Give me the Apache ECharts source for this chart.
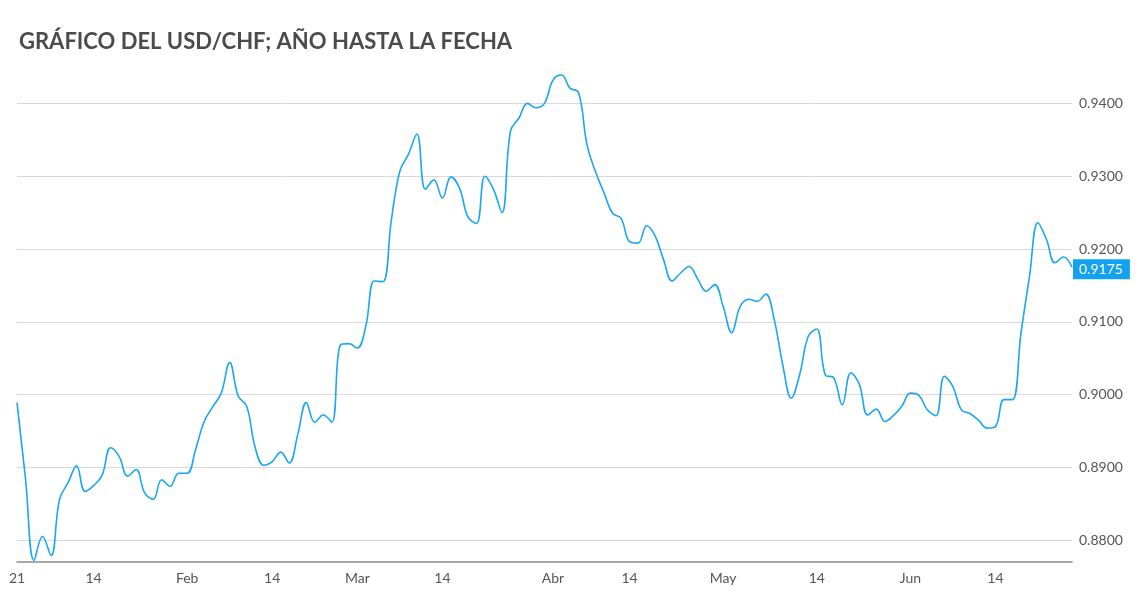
<!DOCTYPE html>
<html>
<head>
<meta charset="utf-8">
<script src="https://cdn.jsdelivr.net/npm/echarts@6/dist/echarts.min.js"></script>
<style>
html,body{margin:0;padding:0;background:#fff;}
#c{width:1140px;height:604px;}
</style>
</head>
<body>
<div id="c"></div>
<script>
const titleText = 'GRÁFICO DEL USD/CHF; AÑO HASTA LA FECHA';

// USD/CHF daily closes (trading days from 2021-01-04)
const usdchf = [
  0.8989, 0.8884, 0.8772, 0.8805, 0.8779, 0.8856, 0.8879, 0.8902, 0.8867, 0.8875,
  0.8889, 0.8927, 0.8915, 0.8888, 0.8897, 0.8865, 0.8856, 0.8883, 0.8874, 0.8892,
  0.8892, 0.8925, 0.8963, 0.8983, 0.9002, 0.9044, 0.8998, 0.8984, 0.8927, 0.8903,
  0.8908, 0.8921, 0.8906, 0.8945, 0.8989, 0.8962, 0.8972, 0.8962, 0.9068, 0.9070,
  0.9064, 0.9094, 0.9156, 0.9155, 0.9240, 0.9307, 0.9330, 0.9358, 0.9282, 0.9295,
  0.9270, 0.9299, 0.9284, 0.9244, 0.9235, 0.9300, 0.9282, 0.9250, 0.9362, 0.9380,
  0.9400, 0.9394, 0.9400, 0.9432, 0.9439, 0.9421, 0.9415, 0.9343, 0.9306, 0.9277,
  0.9249, 0.9242, 0.9210, 0.9208, 0.9232, 0.9218, 0.9185, 0.9156, 0.9167, 0.9176,
  0.9159, 0.9142, 0.9151, 0.9121, 0.9085, 0.9121, 0.9131, 0.9128, 0.9138, 0.9103,
  0.9041, 0.8995, 0.9028, 0.9080, 0.9090, 0.9027, 0.9023, 0.8986, 0.9030, 0.9014,
  0.8972, 0.8980, 0.8963, 0.8971, 0.8984, 0.9002, 0.8999, 0.8979, 0.8971, 0.9025,
  0.9011, 0.8979, 0.8974, 0.8965, 0.8954, 0.8956, 0.8993, 0.8993, 0.9084, 0.9162,
  0.9236, 0.9213, 0.9181, 0.9189, 0.9175
];

// x-axis tick labels and the dates they sit on
const xTickDates  = ['2021-01-04','2021-01-15','2021-02-01','2021-02-15','2021-03-01','2021-03-15','2021-04-01','2021-04-14','2021-04-29','2021-05-14','2021-05-31','2021-06-14'];
const xTickLabels = ['21','14','Feb','14','Mar','14','Abr','14','May','14','Jun','14'];

// y-axis tick values
const yTicks = [0.88, 0.89, 0.90, 0.91, 0.92, 0.93, 0.94];

// trading-day calendar (weekdays) starting 2021-01-04
function tradingDays(start, n) {
  const out = [];
  const d = new Date(start + 'T00:00:00Z');
  while (out.length < n) {
    const wd = d.getUTCDay();
    if (wd !== 0 && wd !== 6) out.push(d.toISOString().slice(0, 10));
    d.setUTCDate(d.getUTCDate() + 1);
  }
  return out;
}
const dates = tradingDays('2021-01-04', usdchf.length);
const tickMap = {};
xTickDates.forEach((d, i) => { tickMap[d] = xTickLabels[i]; });

const BLUE = '#1ba6f1';
const chart = echarts.init(document.getElementById('c'), null, {renderer: 'canvas'});
chart.setOption({
  animation: false,
  backgroundColor: '#ffffff',
  title: {
    text: titleText,
    left: 14,
    top: 26,
    textStyle: {fontFamily: 'Lato', fontWeight: 'bold', fontSize: 22, color: '#4b4b4b'}
  },
  grid: {left: 17, right: 68, top: 67, bottom: 42},
  xAxis: {
    type: 'category',
    data: dates,
    boundaryGap: false,
    axisLine: {show: true, lineStyle: {color: '#8c8c8c', width: 1.5}},
    axisTick: {show: false},
    splitLine: {show: false},
    axisLabel: {
      interval: (idx, val) => tickMap[val] !== undefined,
      formatter: (val) => tickMap[val] || '',
      color: '#555555',
      fontFamily: 'Lato',
      fontSize: 14,
      margin: 9,
      hideOverlap: false
    }
  },
  yAxis: {
    type: 'value',
    position: 'right',
    min: 0.877,
    max: 0.945,
    axisLine: {show: false},
    axisTick: {show: false, customValues: yTicks},
    splitLine: {show: true, lineStyle: {color: '#d9d9d9', width: 1}},
    axisLabel: {
      customValues: yTicks,
      formatter: (v) => v.toFixed(4),
      color: '#555555',
      fontFamily: 'Lato',
      fontSize: 14,
      margin: 7
    }
  },
  series: [{
    type: 'line',
    data: usdchf,
    smooth: 0.4,
    showSymbol: false,
    lineStyle: {color: BLUE, width: 1.6},
    itemStyle: {color: BLUE},
    endLabel: {
      show: true,
      formatter: (p) => Number(p.value).toFixed(4),
      color: '#ffffff',
      backgroundColor: '#12a2ef',
      fontFamily: 'Lato',
      fontSize: 14,
      padding: [3, 7, 3, 6],
      distance: 1,
      offset: [0, 2]
    }
  }]
});
</script>
</body>
</html>
